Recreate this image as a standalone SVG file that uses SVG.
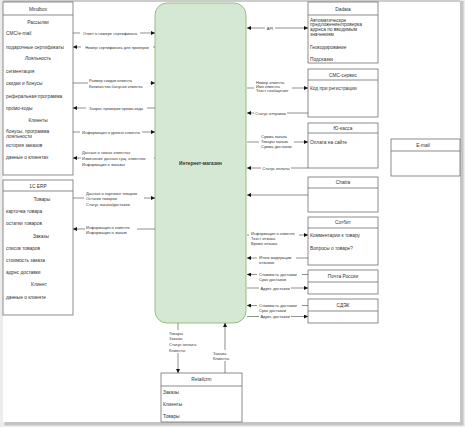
<svg xmlns="http://www.w3.org/2000/svg" width="465" height="427" viewBox="0 0 465 427">
<defs>
<marker id="ah" markerUnits="userSpaceOnUse" markerWidth="4" markerHeight="4" refX="4" refY="2" orient="auto-start-reverse"><path d="M0,0 L4,2 L0,4 z" fill="#111"/></marker>
<style>
text{font-family:"Liberation Sans",Arial,sans-serif;fill:#333;dominant-baseline:central}
.bx{fill:#fff;stroke:#707070;stroke-width:0.8}
.hd{stroke:#707070;stroke-width:0.8}
.t{font-size:4.8px}
.h{font-size:4.8px;text-anchor:middle}
.l{font-size:4px}
.lc{font-size:4px;text-anchor:middle}
.c{fill:none;stroke:#444;stroke-width:0.6;marker-end:url(#ah)}
.bg{fill:#fff}
</style>
</defs>
<rect width="465" height="427" fill="#ececec"/>
<rect x="4.5" y="1" width="459" height="424.5" fill="#c4c4c4"/>
<rect x="3" y="0" width="457" height="422" fill="#fff"/>
<line x1="3" y1="1" x2="460" y2="1" stroke="#999" stroke-width="1"/>

<g id="shop"><rect x="155" y="3" width="91" height="320" rx="12" fill="#d5e8d4" stroke="#82b366" stroke-width="0.8"/><text x="200.5" y="163" font-size="4.8" font-weight="bold" text-anchor="middle">Интернет-магазин</text></g>

<g id="mindbox"><rect class="bx" x="3" y="2" width="70" height="173"/><line class="hd" x1="3" y1="15" x2="73" y2="15"/>
<text class="h" x="38" y="9.5">Mindbox</text>
<text class="h" x="38" y="22">Рассылки</text>
<text class="t" x="6" y="33">СМС/e-mail</text>
<text class="t" x="6" y="47">подарочные сертификаты</text>
<text class="h" x="38" y="58">Лояльность</text>
<text class="t" x="6" y="71">сегментация</text>
<text class="t" x="6" y="83">скидки и бонусы</text>
<text class="t" x="6" y="96">реферальная программа</text>
<text class="t" x="6" y="108">промо-коды</text>
<text class="h" x="38" y="120">Клиенты</text>
<text class="t" x="6" y="131">бонусы, программа</text>
<text class="t" x="6" y="136.5">лояльности</text>
<text class="t" x="6" y="145">история заказов</text>
<text class="t" x="6" y="157">данные о клиентах</text>
</g>

<g id="erp"><rect class="bx" x="3" y="180" width="70" height="135"/><line class="hd" x1="3" y1="191" x2="73" y2="191"/>
<text class="h" x="38" y="186">1С ERP</text>
<text class="h" x="42" y="199">Товары</text>
<text class="t" x="6" y="211">карточка товара</text>
<text class="t" x="6" y="223">остатки товаров</text>
<text class="h" x="41" y="236">Заказы</text>
<text class="t" x="6" y="248">список товаров</text>
<text class="t" x="6" y="260">стоимость заказа</text>
<text class="t" x="6" y="272">адрес доставки</text>
<text class="h" x="39" y="284">Клиент</text>
<text class="t" x="6" y="297">данные о клиенте</text>
</g>

<g id="dadata"><rect class="bx" x="308" y="2" width="70" height="61"/><line class="hd" x1="308" y1="15" x2="378" y2="15"/>
<text class="h" x="343" y="9.5">Dadata</text>
<text class="t" x="310" y="20">Автоматическое</text>
<text class="t" x="310" y="24.8">предложение/проверка</text>
<text class="t" x="310" y="29.6">адреса по вводимым</text>
<text class="t" x="310" y="34.4">значениям</text>
<text class="t" x="310" y="47">Геокодирование</text>
<text class="t" x="310" y="59">Подсказки</text>
</g>

<g id="sms"><rect class="bx" x="308" y="69" width="70" height="48"/><line class="hd" x1="308" y1="80" x2="378" y2="80"/>
<text class="h" x="343" y="75">СМС-сервис</text>
<text class="t" x="310" y="88">Код при регистрации</text>
</g>

<g id="yukassa"><rect class="bx" x="308" y="123" width="70" height="45"/><line class="hd" x1="308" y1="133" x2="378" y2="133"/>
<text class="h" x="343" y="128.5">Ю-касса</text>
<text class="t" x="310" y="142">Оплата на сайте</text>
</g>

<g id="chatra"><rect class="bx" x="308" y="177" width="70" height="35"/><line class="hd" x1="308" y1="188" x2="378" y2="188"/>
<text class="h" x="343" y="182.5">Chatra</text>
</g>

<g id="sotbit"><rect class="bx" x="308" y="217" width="70" height="48"/><line class="hd" x1="308" y1="228" x2="378" y2="228"/>
<text class="h" x="343" y="222.5">Сотбит</text>
<text class="t" x="310" y="235">Комментарии к товару</text>
<text class="t" x="310" y="248">Вопросы о товаре?</text>
</g>

<g id="pochta"><rect class="bx" x="308" y="270" width="70" height="24"/><line class="hd" x1="308" y1="282" x2="378" y2="282"/>
<text class="h" x="343" y="276">Почта России</text>
</g>

<g id="cdek"><rect class="bx" x="308" y="299" width="70" height="24"/><line class="hd" x1="308" y1="311" x2="378" y2="311"/>
<text class="h" x="343" y="305">СДЭК</text>
</g>

<g id="email"><rect class="bx" x="391" y="139" width="69" height="37"/><line class="hd" x1="391" y1="151" x2="460" y2="151"/>
<text class="h" x="423" y="145">E-mail</text>
</g>

<g id="retailcrm"><rect class="bx" x="161" y="373" width="81" height="49"/><line class="hd" x1="161" y1="386" x2="242" y2="386"/>
<text class="h" x="201.5" y="379.5">Retailcrm</text>
<text class="t" x="163" y="392">Заказы</text>
<text class="t" x="163" y="404">Клиенты</text>
<text class="t" x="163" y="416">Товары</text>
</g>

<g id="connectors">
<path class="c" d="M73,33 H155"/>
<path class="c" d="M155,47 H73"/>
<path class="c" d="M73,83 H155"/>
<path class="c" d="M155,108 H73"/>
<path class="c" d="M73,132 H155"/>
<path class="c" d="M155,158 H73"/>
<path class="c" d="M73,198 H155"/>
<path class="c" d="M155,229 H73"/>
<path class="c" d="M247,28 H308" marker-start="url(#ah)"/>
<path class="c" d="M247,88 H308"/>
<path class="c" d="M308,113 H247"/>
<path class="c" d="M247,142 H308"/>
<path class="c" d="M308,168 H247"/>
<path class="c" d="M308,195 H247"/>
<path class="c" d="M247,235 H308"/>
<path class="c" d="M308,258 H247"/>
<path class="c" d="M308,274.5 H247"/>
<path class="c" d="M247,288 H308"/>
<path class="c" d="M308,305.5 H247"/>
<path class="c" d="M247,316.5 H308"/>
<path class="c" d="M178,323 V373"/>
<path class="c" d="M225,373 V323"/>

<g id="labels">
<rect class="bg" x="80" y="31" width="60" height="4"/><text class="lc" x="110" y="33">Ответ о номере сертификата</text>
<rect class="bg" x="81" y="45" width="72" height="4"/><text class="lc" x="117" y="47">Номер сертификата для проверки</text>
<rect class="bg" x="88" y="78" width="62" height="11"/><text class="l" x="89" y="80.5">Размер скидки клиента</text><text class="l" x="89" y="86">Количество бонусов клиента</text>
<rect class="bg" x="86" y="106" width="61" height="4"/><text class="lc" x="116" y="108">Запрос проверки промо-кода</text>
<rect class="bg" x="80" y="130" width="62" height="4"/><text class="lc" x="111" y="132">Информация о уровне клиента</text>
<rect class="bg" x="81" y="149" width="73" height="17"/><text class="l" x="82" y="152">Данные о новых клиентах</text><text class="l" x="82" y="158">Изменение данных сущ. клиентов</text><text class="l" x="82" y="164">Информация о заказах</text>
<rect class="bg" x="84" y="190" width="60" height="17"/><text class="l" x="86" y="193">Данные о карточке товаров</text><text class="l" x="86" y="198.5">Остатки товаров</text><text class="l" x="86" y="204">Статус заказа/доставки</text>
<rect class="bg" x="85" y="224" width="52" height="11"/><text class="l" x="86" y="227">Информация о клиенте</text><text class="l" x="86" y="232.5">Информация о заказе</text>
<rect class="bg" x="265" y="26" width="10" height="4"/><text class="lc" x="270" y="28">API</text>
<rect class="bg" x="254" y="79" width="38" height="14"/><text class="l" x="256" y="82">Номер клиента</text><text class="l" x="256" y="86">Имя клиента</text><text class="l" x="256" y="90">Текст сообщения</text>
<rect class="bg" x="254" y="111" width="33" height="4"/><text class="lc" x="270.5" y="113">Статус отправки</text>
<rect class="bg" x="259" y="133" width="35" height="16"/><text class="l" x="261" y="136">Сумма заказа</text><text class="l" x="261" y="141">Товары заказа</text><text class="l" x="261" y="146">Сумма доставки</text>
<rect class="bg" x="261" y="166" width="30" height="4"/><text class="lc" x="276" y="168">Статус оплаты</text>
<rect class="bg" x="249" y="230" width="50" height="16"/><text class="l" x="251" y="233">Информация о клиенте</text><text class="l" x="251" y="238">Текст отзыва</text><text class="l" x="251" y="243">Время отзыва</text>
<rect class="bg" x="257" y="255" width="39" height="10"/><text class="l" x="259" y="257.5">Итоги модерации</text><text class="l" x="259" y="262.5">отзывов</text>
<rect class="bg" x="257" y="272" width="45" height="10"/><text class="l" x="259" y="274.5">Стоимость доставки</text><text class="l" x="259" y="279.5">Срок доставки</text>
<rect class="bg" x="259" y="286" width="32" height="4"/><text class="lc" x="275" y="288">Адрес доставки</text>
<rect class="bg" x="257" y="303" width="45" height="10"/><text class="l" x="259" y="305.5">Стоимость доставки</text><text class="l" x="259" y="310.5">Срок доставки</text>
<rect class="bg" x="259" y="314.5" width="32" height="4"/><text class="lc" x="275" y="316.5">Адрес доставки</text>
<rect class="bg" x="168" y="330" width="29" height="23"/><text class="l" x="169" y="333">Товары</text><text class="l" x="169" y="338.5">Заказы</text><text class="l" x="169" y="344">Статус оплаты</text><text class="l" x="169" y="350">Клиенты</text>
<rect class="bg" x="212" y="350" width="22" height="11"/><text class="l" x="213" y="353">Заказы</text><text class="l" x="213" y="358.5">Клиенты</text>
</g>
</g>
</svg>
